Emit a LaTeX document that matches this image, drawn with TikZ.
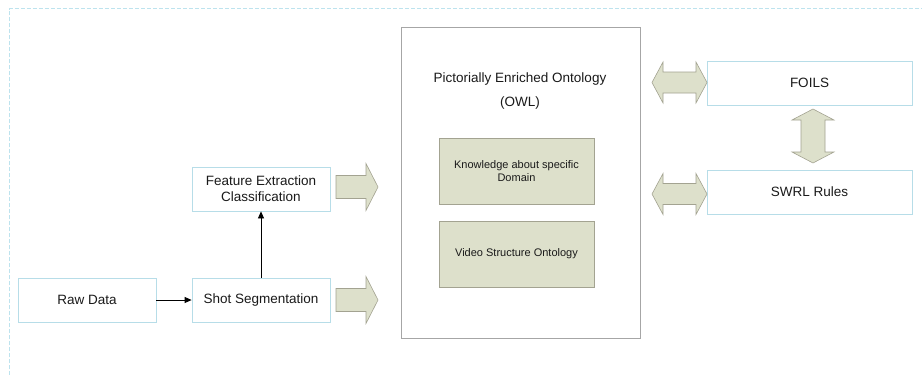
\documentclass[tikz,border=0pt]{standalone}
\usepackage{fontspec}
\setmainfont{Liberation Sans}
\usetikzlibrary{arrows.meta}
\definecolor{edgeblue}{HTML}{B7DDE8}
\definecolor{frameblue}{HTML}{BDE3EE}
\definecolor{olivefill}{HTML}{DDE0CB}
\definecolor{olivedraw}{HTML}{A3A391}
\definecolor{boxgray}{HTML}{A6A6A6}
\definecolor{txt}{HTML}{1A1A1A}

% right-pointing block arrow: start x, tip x, centre y
\newcommand{\blockright}[3]{%
  \filldraw[blockarrow] (#1,#3-11.5) -- (#2-12,#3-11.5) -- (#2-12,#3-23.5) -- (#2,#3)
    -- (#2-12,#3+23.5) -- (#2-12,#3+11.5) -- (#1,#3+11.5) -- cycle;}
% horizontal double block arrow: left tip x, right tip x, centre y
\newcommand{\blockhboth}[3]{%
  \filldraw[blockarrow] (#1,#3) -- (#1+11,#3-20.5) -- (#1+11,#3-10.5) -- (#2-11,#3-10.5)
    -- (#2-11,#3-20.5) -- (#2,#3) -- (#2-11,#3+20.5) -- (#2-11,#3+10.5)
    -- (#1+11,#3+10.5) -- (#1+11,#3+20.5) -- cycle;}
% vertical double block arrow: centre x, top tip y, bottom tip y
\newcommand{\blockvboth}[3]{%
  \filldraw[blockarrow] (#1,#2) -- (#1+21,#2+11) -- (#1+12,#2+11) -- (#1+12,#3-11)
    -- (#1+21,#3-11) -- (#1,#3) -- (#1-21,#3-11) -- (#1-12,#3-11)
    -- (#1-12,#2+11) -- (#1-21,#2+11) -- cycle;}

\begin{document}
\begin{tikzpicture}[x=1pt,y=-1pt,
  every node/.style={text=txt, font=\fontsize{13.5}{16}\selectfont},
  lbox/.style={draw=edgeblue, fill=white, line width=0.8pt, minimum width=138pt,
    minimum height=44pt, inner sep=0pt, align=center},
  gbox/.style={draw=olivedraw, fill=olivefill, line width=0.7pt, minimum width=155pt,
    minimum height=66pt, inner sep=0pt, align=center,
    font=\fontsize{11}{12.5}\selectfont},
  bigbox/.style={draw=boxgray, line width=1pt, minimum width=239pt,
    minimum height=311pt, inner sep=0pt},
  blockarrow/.style={fill=olivefill, draw=olivedraw, line width=0.6pt, line join=miter},
  link/.style={draw=black, line width=0.8pt, -{Triangle[length=7pt,width=6pt]}}]

\useasboundingbox (0,0) rectangle (922,375);
\fill[white] (0,0) rectangle (922,375);

% dashed outer frame (runs off the page to the right and bottom)
\draw[frameblue, line width=0.8pt, dash pattern=on 4pt off 2pt]
  (9.5,375) -- (9.5,8.5) -- (922,8.5);

% input pipeline
\node[lbox] (raw)  at (87,300)  {Raw Data};
\node[lbox] (shot) at (261,300) {Shot Segmentation};
\node[lbox] (feat) at (261,189) {Feature Extraction\\Classification};

% ontology container
\node[bigbox] (onto) at (520.5,182.5) {};
\node[align=center, font=\fontsize{13.5}{24}\selectfont] (title) at (520,91)
  {Pictorially Enriched Ontology\\(OWL)};
\node[gbox] (know) at (516.5,171) {Knowledge about specific\\Domain};
\node[gbox] (vso)  at (516.5,254) {Video Structure Ontology};

% reasoning side
\node[lbox, minimum width=205pt] (foils) at (809.5,83)  {FOILS};
\node[lbox, minimum width=205pt] (swrl)  at (809.5,192) {SWRL Rules};

% thin connectors
\draw[link] (raw.east) -- (shot.west);
\draw[link] (shot.north) -- (feat.south);

% block arrows into and out of the ontology
\blockright{336}{378}{187}
\blockright{336}{378}{300}
\blockhboth{652}{707}{82.5}
\blockhboth{652}{707}{194}
\blockvboth{813}{109}{163}
\end{tikzpicture}
\end{document}
